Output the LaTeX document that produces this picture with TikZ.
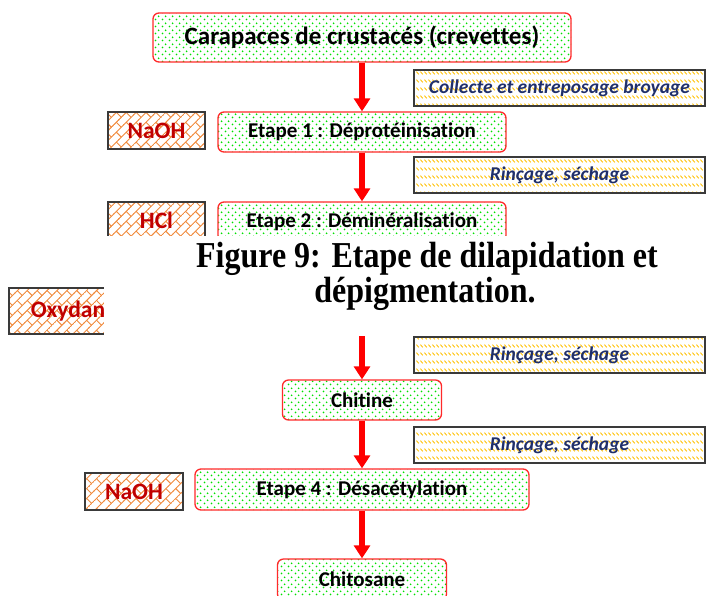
\documentclass[tikz,border=0pt]{standalone}
\usepackage{fontspec}
\setmainfont{Carlito}[Ligatures=CommonOff]
\newfontfamily\capfont{Liberation Serif}
\usetikzlibrary{arrows.meta, patterns.meta}
\definecolor{boxred}{HTML}{FF2A2A}
\definecolor{dotgreen}{HTML}{00E000}
\definecolor{hatchgold}{HTML}{FFC000}
\definecolor{brick}{HTML}{F08A3C}
\definecolor{chemred}{HTML}{C00000}
\definecolor{washblue}{HTML}{1F2F6B}
\definecolor{frame}{HTML}{3A3A3A}

\tikzdeclarepattern{
  name=greendots, type=uncolored,
  bounding box={(0pt,0pt) and (7pt,7pt)},
  tile size={(7pt,7pt)},
  code={\fill (1.75pt,1.75pt) circle (1.05pt); \fill (5.25pt,5.25pt) circle (1.05pt);}
}
\tikzdeclarepattern{
  name=dashdiag, type=uncolored,
  bounding box={(0pt,0pt) and (4pt,8pt)},
  tile size={(4pt,8pt)},
  code={\draw[line width=1pt] (0.5pt,3.7pt) -- (3.5pt,0.7pt);}
}
\tikzdeclarepattern{
  name=diagbricks, type=uncolored,
  bounding box={(-0.5pt,-0.5pt) and (14.5pt,14.5pt)},
  tile size={(14pt,14pt)},
  tile transformation={rotate=45},
  code={\draw[line width=0.9pt] (-0.5pt,0pt) -- (14.5pt,0pt) (-0.5pt,7pt) -- (14.5pt,7pt)
          (3.5pt,0pt) -- (3.5pt,7pt) (10.5pt,7pt) -- (10.5pt,14pt);}
}

\begin{document}
\begin{tikzpicture}[
    x=1pt, y=-1pt,
    stage/.style={draw=boxred, line width=1.3pt, rounded corners=6pt, pattern=greendots, pattern color=dotgreen,
      inner sep=0pt, minimum height=40pt, font=\bfseries\fontsize{21}{25}\selectfont},
    wash/.style={draw=frame, line width=1.2pt, pattern=dashdiag, pattern color=hatchgold, inner sep=0pt,
      minimum width=291pt, minimum height=36pt, text=washblue, font=\bfseries\itshape\fontsize{19.5}{23}\selectfont},
    reagent/.style={draw=frame, line width=1.2pt, pattern=diagbricks, pattern color=brick, inner sep=0pt,
      minimum width=97pt, minimum height=37pt, text=chemred, font=\bfseries\fontsize{23.5}{27}\selectfont},
    flow/.style={color=red, line width=6.5pt, -{Triangle[width=16pt,length=13pt]}},
    figcap/.style={anchor=base, yscale=1.14, font=\capfont\bfseries\fontsize{32}{35}\selectfont}
]
\clip (0,0) rectangle (706,595);
% Main chain
\node[stage, minimum width=418pt, minimum height=49pt, font=\bfseries\fontsize{25}{29}\selectfont] (raw) at (362,37.5) {Carapaces de crustacés (crevettes)};
\node[stage, minimum width=288pt] (etape1) at (362,132) {Etape 1 : Déprotéinisation\hspace{32pt}};
\node[stage, minimum width=288pt] (etape2) at (362,222) {Etape 2 : Déminéralisation};
\node[stage, minimum width=159pt] (chitine) at (362,400) {Chitine};
\node[stage, minimum width=334pt, minimum height=41pt] (etape4) at (362,489.5) {Etape 4 : Désacétylation};
\node[stage, minimum width=169pt, minimum height=41pt] (chitosane) at (362,579.5) {Chitosane};
% Reagents
\node[reagent] (naoh1) at (156.5,130.5) {NaOH};
\node[reagent] (hcl) at (156.5,220.5) {HCl};
\node[reagent, minimum width=126pt, minimum height=46pt] (oxyd) at (72,311) {Oxydant};
\node[reagent, minimum width=98pt] (naoh2) at (134,491.5) {NaOH};
% Side treatments
\node[wash] (collecte) at (559.5,88) {Collecte et entreposage broyage};
\node[wash] (rinc1) at (559.5,175) {Rinçage, séchage};
\node[wash] (rinc3) at (559.5,445) {Rinçage, séchage};
% Arrows
\coordinate (hidden) at (362,320);
\draw[flow] (raw) -- (etape1);
\draw[flow] (etape1) -- (etape2);
\draw[flow] (hidden) -- (chitine);
\draw[flow] (chitine) -- (etape4);
\draw[flow] (etape4) -- (chitosane);
% Caption over the chart
\fill[white] (104,236) rectangle (706,336);
\node[wash] (rinc2) at (559.5,355) {Rinçage, séchage};
\node[figcap] (cap1) at (427,267) {Figure 9: Etape de dilapidation et};
\node[figcap] (cap2) at (425,302) {dépigmentation.};
\end{tikzpicture}
\end{document}
